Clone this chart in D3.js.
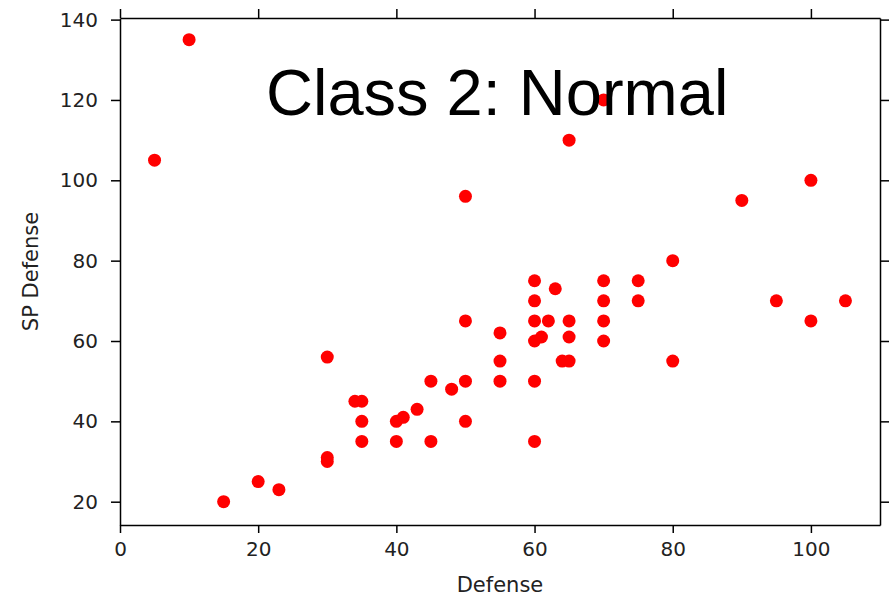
<!DOCTYPE html>
<html>
<head>
  <script src="https://d3js.org/d3.v7.min.js"></script>
  <style>
    body { margin: 0; background: #fff; }
    .tick text { font-family: "DejaVu Sans", sans-serif; font-size: 20px; fill: #222; }
    .axis path, .axis line { stroke: #000; stroke-width: 1.5; }
  </style>
</head>
<body>
<div id="chart"></div>
<script>
// Defense vs SP Defense, class 2 (Normal)
const defense   = [10, 5, 15, 20, 23, 30, 30, 30, 34, 35, 35, 35, 40, 41, 40, 43, 45, 45, 48, 50, 50, 50, 50,
                   55, 55, 55, 60, 60, 63, 60, 62, 65, 60, 61, 65, 64, 65, 60, 60, 65, 70, 70, 70, 70, 70,
                   75, 75, 80, 80, 90, 95, 100, 100, 105];
const spDefense = [135, 105, 20, 25, 23, 31, 30, 56, 45, 45, 40, 35, 40, 41, 35, 43, 50, 35, 48, 50, 40, 65, 96,
                   62, 55, 50, 75, 70, 73, 65, 65, 65, 60, 61, 61, 55, 55, 50, 35, 110, 120, 75, 70, 65, 60,
                   75, 70, 80, 55, 95, 70, 100, 65, 70];
const xTicks = [0, 20, 40, 60, 80, 100];
const yTicks = [20, 40, 60, 80, 100, 120, 140];

const W = 895, H = 598;
const margin = {top: 18, right: 15, bottom: 73, left: 120};
const width = W - margin.left - margin.right;
const height = H - margin.top - margin.bottom;

const svg = d3.select("#chart").append("svg")
    .attr("width", W)
    .attr("height", H);

const g = svg.append("g")
    .attr("transform", "translate(" + margin.left + "," + margin.top + ")");

const x = d3.scaleLinear().domain([0, 110]).range([0, width]);
const y = d3.scaleLinear().domain([14.2, 140.4]).range([height, 0]);

// axes, ticks pointing outward on every side
g.append("g").attr("class", "axis")
    .attr("transform", "translate(0," + height + ")")
    .call(d3.axisBottom(x).tickValues(xTicks).tickSizeInner(8).tickSizeOuter(0).tickPadding(9));
g.append("g").attr("class", "axis")
    .call(d3.axisLeft(y).tickValues(yTicks).tickSizeInner(9).tickSizeOuter(0).tickPadding(13));
g.append("g").attr("class", "axis")
    .call(d3.axisTop(x).tickValues(xTicks).tickSizeInner(9).tickSizeOuter(0).tickFormat(""));
g.append("g").attr("class", "axis")
    .attr("transform", "translate(" + width + ",0)")
    .call(d3.axisRight(y).tickValues(yTicks).tickSizeInner(9).tickSizeOuter(0).tickFormat(""));

g.selectAll(".axis .domain").attr("stroke-width", 1.8);

g.selectAll(".dot")
    .data(defense)
    .enter().append("circle")
    .attr("class", "dot")
    .attr("cx", function(d) { return x(d); })
    .attr("cy", function(d, i) { return y(spDefense[i]); })
    .attr("r", 6.5)
    .attr("fill", "#ff0000");

// axis labels
svg.append("text")
    .attr("x", margin.left + width / 2)
    .attr("y", 592)
    .attr("text-anchor", "middle")
    .style("font-family", "DejaVu Sans, sans-serif")
    .style("font-size", "21px")
    .style("fill", "#222")
    .text("Defense");

svg.append("text")
    .attr("transform", "translate(38," + (margin.top + height / 2) + ") rotate(-90)")
    .attr("text-anchor", "middle")
    .style("font-family", "DejaVu Sans, sans-serif")
    .style("font-size", "21px")
    .style("fill", "#222")
    .text("SP Defense");

// big title pasted on the plot
svg.append("text")
    .attr("x", 266)
    .attr("y", 115)
    .style("font-family", "Liberation Sans, Arial, sans-serif")
    .style("font-size", "65px")
    .style("fill", "#000")
    .text("Class 2: Normal");
</script>
</body>
</html>
